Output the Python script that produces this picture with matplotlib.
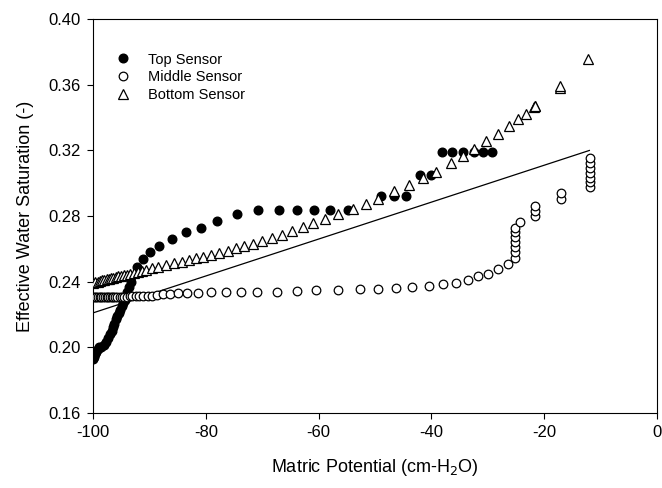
import matplotlib

matplotlib.use("Agg")
import matplotlib.pyplot as plt

plt.rcParams["font.family"] = ["Liberation Sans", "DejaVu Sans"]
plt.rcParams["axes.unicode_minus"] = False

# Top sensor (filled circles)
top_x = [-100.0, -99.9, -99.7, -99.5, -99.2, -98.9, -98.5, -98.1, -97.7, -97.3,
         -97.0, -96.7, -96.4, -96.2, -95.9, -95.7, -95.4, -95.2, -94.9, -94.7,
         -94.4, -94.2, -93.9, -93.6, -93.3, -92.2, -91.1, -89.9, -88.3, -86.0,
         -83.5, -80.9, -78.0, -74.5, -70.7, -67.0, -63.8, -60.8, -58.0, -54.8,
         -48.9, -46.6, -44.5, -42.1, -40.0, -38.1, -36.3, -34.4, -32.4, -30.9,
         -29.3]
top_y = [0.193, 0.194, 0.196, 0.197, 0.199, 0.200, 0.2005, 0.2015, 0.2035, 0.2055,
         0.208, 0.210, 0.2125, 0.2145, 0.217, 0.219, 0.221, 0.223, 0.225, 0.227,
         0.229, 0.231, 0.234, 0.237, 0.240, 0.249, 0.254, 0.258, 0.262, 0.266,
         0.270, 0.273, 0.277, 0.281, 0.284, 0.284, 0.284, 0.284, 0.284, 0.284,
         0.292, 0.292, 0.292, 0.305, 0.305, 0.319, 0.319, 0.319, 0.319, 0.319,
         0.319]

# Middle sensor (open circles)
mid_x = [-100.0, -99.7, -99.4, -99.1, -98.8, -98.5, -98.2, -97.9, -97.6, -97.3,
         -97.0, -96.7, -96.4, -96.1, -95.7, -95.3, -94.9, -94.5, -94.0, -93.5,
         -93.0, -92.4, -91.8, -91.1, -90.3, -89.5, -88.7, -87.6, -86.3, -84.9,
         -83.3, -81.4, -79.1, -76.4, -73.8, -70.9, -67.4, -63.8, -60.5, -56.6,
         -52.7, -49.5, -46.3, -43.4, -40.5, -38.0, -35.7, -33.5, -31.7, -30.0,
         -28.2, -26.4, -25.2, -25.2, -25.2, -25.2, -25.2, -25.2, -25.2, -24.3,
         -21.6, -21.6, -21.6, -17.0, -17.0, -11.9, -11.9, -11.9, -11.9, -11.9,
         -11.9, -11.9]
mid_y = [0.2305, 0.2305, 0.2305, 0.2305, 0.2305, 0.2305, 0.2306, 0.2306, 0.2306, 0.2306,
         0.2307, 0.2307, 0.2307, 0.2307, 0.2308, 0.2308, 0.2308, 0.2309, 0.2309, 0.2310,
         0.2310, 0.2311, 0.2311, 0.2312, 0.2312, 0.2313, 0.2319, 0.2325, 0.2327, 0.2329,
         0.2331, 0.2333, 0.2335, 0.2336, 0.2337, 0.2338, 0.2340, 0.2343, 0.2347, 0.2350,
         0.2354, 0.2357, 0.2362, 0.2368, 0.2374, 0.2386, 0.2392, 0.2411, 0.2432, 0.2447,
         0.2478, 0.2508, 0.2544, 0.2581, 0.2611, 0.2642, 0.2672, 0.2703, 0.2727, 0.2764,
         0.2800, 0.2831, 0.2861, 0.2904, 0.2940, 0.2977, 0.3007, 0.3032, 0.3062, 0.3093,
         0.3123, 0.3153]

# Bottom sensor (open triangles)
bot_x = [-100.0, -99.6, -99.2, -98.8, -98.4, -98.0, -97.6, -97.2, -96.8, -96.4,
         -96.0, -95.5, -95.0, -94.5, -94.0, -93.4, -92.8, -92.1, -91.4, -90.6,
         -89.5, -88.5, -87.1, -85.6, -84.2, -83.0, -81.7, -80.5, -79.1, -77.7,
         -76.1, -74.6, -73.2, -71.6, -70.0, -68.3, -66.5, -64.7, -62.8, -61.0,
         -58.9, -56.6, -53.9, -51.6, -49.5, -46.6, -43.9, -41.5, -39.2, -36.5,
         -34.4, -32.4, -30.3, -28.2, -26.2, -24.6, -23.2, -21.8, -21.6, -21.6,
         -17.2, -17.2, -12.2]
bot_y = [0.2395, 0.2398, 0.2401, 0.2404, 0.2408, 0.2411, 0.2414, 0.2418, 0.2421, 0.2424,
         0.2428, 0.2432, 0.2436, 0.2440, 0.2444, 0.2449, 0.2454, 0.2460, 0.2466, 0.2473,
         0.2484, 0.2492, 0.2503, 0.2514, 0.2522, 0.2533, 0.2542, 0.2551, 0.2563, 0.2575,
         0.2590, 0.2603, 0.2615, 0.2628, 0.2648, 0.2666, 0.2685, 0.2709, 0.2733, 0.2758,
         0.2782, 0.2813, 0.2843, 0.2873, 0.2904, 0.2953, 0.2992, 0.3032, 0.3070, 0.3123,
         0.3169, 0.3209, 0.3255, 0.3303, 0.3349, 0.3391, 0.3422, 0.3462, 0.3468, 0.3471,
         0.3581, 0.3593, 0.3757]

# fitted line
fit_x = [-100.0, -12.0]
fit_y = [0.221, 0.320]

x_ticks = [-100, -80, -60, -40, -20, 0]
y_ticks = [0.16, 0.20, 0.24, 0.28, 0.32, 0.36, 0.40]

fig = plt.figure(figsize=(6.62, 4.88), dpi=100)
ax = fig.add_axes([0.1405, 0.1537, 0.852, 0.807])

ms = 6.2
ax.plot(top_x, top_y, "o", color="black", markersize=ms, label="Top Sensor", zorder=3)
ax.plot(mid_x, mid_y, "o", markerfacecolor="white", markeredgecolor="black",
        markeredgewidth=0.9, markersize=ms, label="Middle Sensor", zorder=3)
ax.plot(bot_x, bot_y, "^", markerfacecolor="white", markeredgecolor="black",
        markeredgewidth=0.9, markersize=ms + 0.6, label="Bottom Sensor", zorder=3)
ax.plot(fit_x, fit_y, "-", color="black", linewidth=0.9, zorder=2)

ax.set_xlim(-100, 0)
ax.set_ylim(0.16, 0.40)
ax.set_xticks(x_ticks)
ax.set_yticks(y_ticks)
ax.set_yticklabels([f"{v:.2f}" for v in y_ticks])
ax.tick_params(direction="out", length=4, width=0.8, labelsize=12, pad=5)
for s in ax.spines.values():
    s.set_linewidth(0.8)

ax.set_xlabel("Matric Potential (cm-H$_2$O)", fontsize=13, labelpad=12)
ax.set_ylabel("Effective Water Saturation (-)", fontsize=13, labelpad=10)

ax.legend(loc="upper left", bbox_to_anchor=(0.03, 0.93), frameon=False,
          fontsize=10.5, handletextpad=1.2, labelspacing=0.25, borderaxespad=0,
          handlelength=1.0)

fig.savefig("out.png", dpi=100)
